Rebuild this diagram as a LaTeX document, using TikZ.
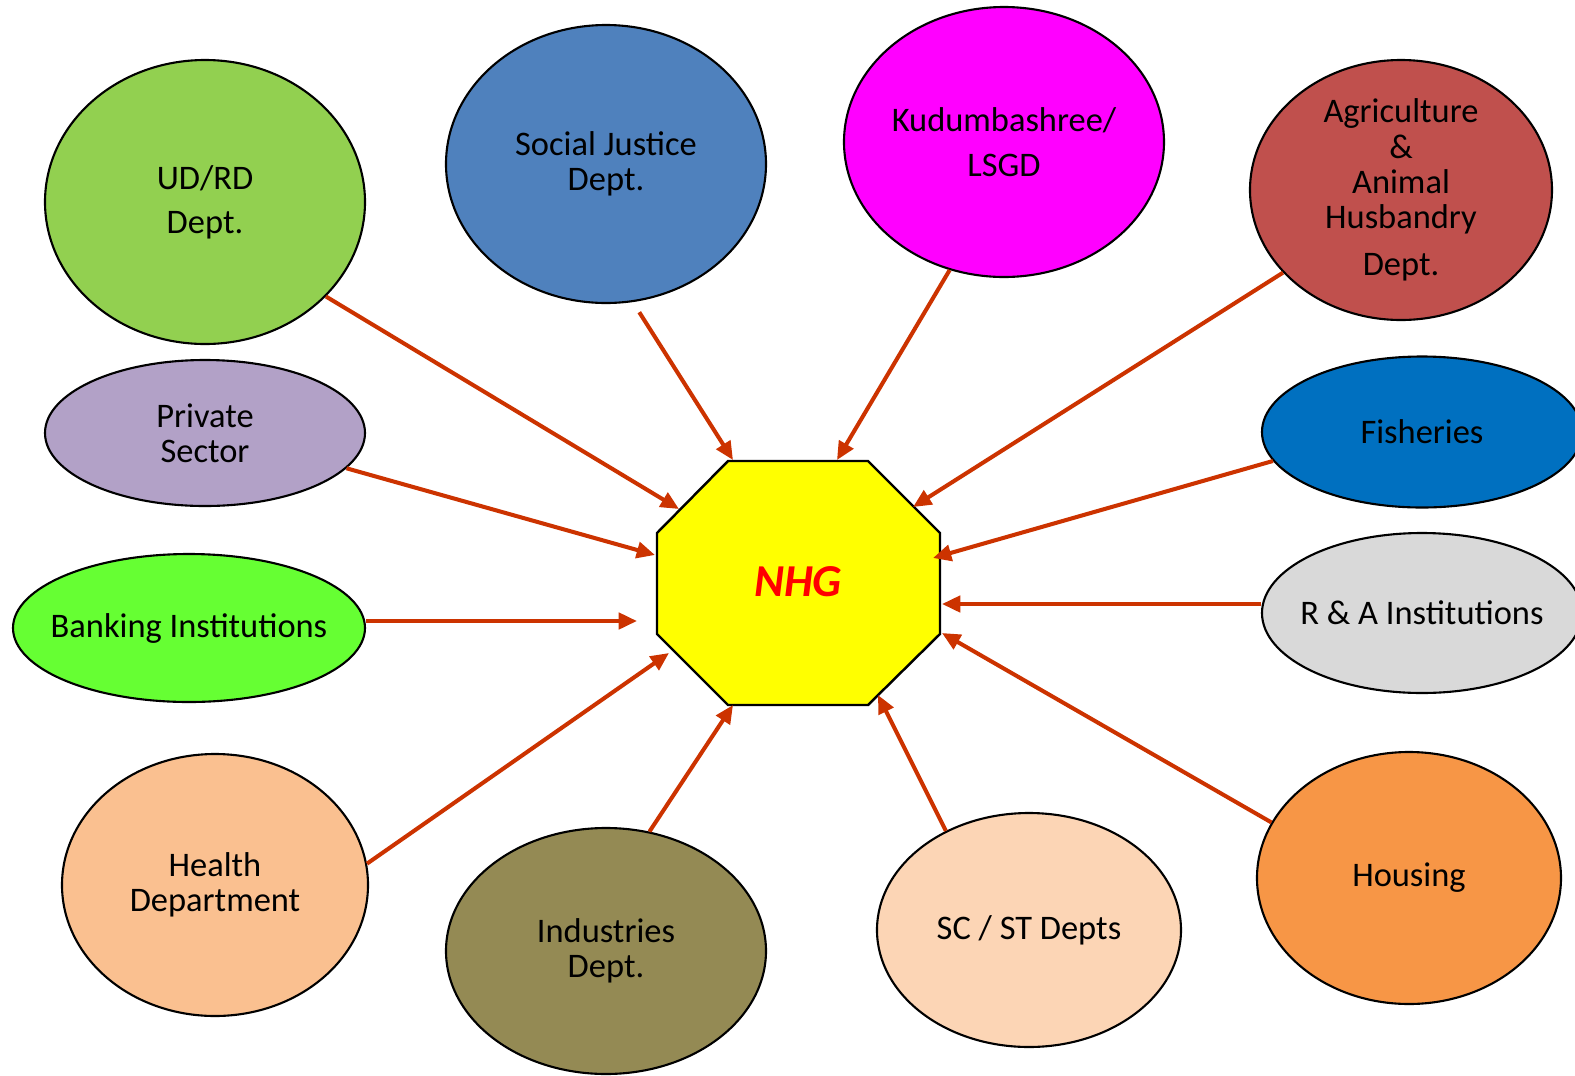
\documentclass[tikz,border=0pt]{standalone}
\usepackage{fontspec}
\setmainfont{Carlito}
\usetikzlibrary{shapes.geometric,arrows.meta}

\begin{document}
\begin{tikzpicture}[
    dept/.style = {ellipse, draw = black, line width = 0.6pt, inner sep = 0pt, align = center,
                   font = \fontsize{9.8}{10}\selectfont},
    arr/.style = {draw = arrowred, line width = 1.15pt, -{Triangle[length = 5.2pt, width = 4.6pt]}}
  ]
  \definecolor{arrowred}{HTML}{CC3300}
  \definecolor{octyellow}{HTML}{FFFF00}
  \definecolor{nhgred}{HTML}{FF0000}
  \useasboundingbox (0,0) rectangle (15.75,-10.76);
  \clip (0,0) rectangle (15.75,-10.76);
  \begin{scope} [fill opacity = 1]
    %% the centre octagon
    \filldraw[fill = octyellow, draw = black, line width = 0.7pt]
      (7.28,-4.61) -- (8.68,-4.61) -- (9.40,-5.33) -- (9.40,-6.34) -- (8.68,-7.05)
      -- (7.28,-7.05) -- (6.57,-6.34) -- (6.57,-5.33) -- cycle;
    \node (nhg) at (7.98,-5.82) {\fontsize{13}{15}\selectfont\color{nhgred}\textbf{\textit{NHG}}};

    %% the departments round it
    \node[dept, fill = {rgb,255:red,146;green,208;blue,80}, minimum width = 3.20cm, minimum height = 2.84cm] (udrd) at (2.05,-2.02) {UD/RD\\[2.5pt]Dept.};
    \node[dept, fill = {rgb,255:red,79;green,129;blue,189}, minimum width = 3.20cm, minimum height = 2.78cm] (social) at (6.06,-1.64) {Social Justice\\Dept.};
    \node[dept, fill = {rgb,255:red,255;green,0;blue,255}, minimum width = 3.20cm, minimum height = 2.70cm, inner xsep = -0.1cm] (kudumba) at (10.04,-1.42) {Kudumbashree/\\[3pt]LSGD};
    \node[dept, fill = {rgb,255:red,192;green,80;blue,77}, minimum width = 3.02cm, minimum height = 2.60cm] (agri) at (14.01,-1.90) {Agriculture\\\&\\Animal\\ Husbandry\\[3.4pt]Dept.};
    \node[dept, fill = {rgb,255:red,178;green,161;blue,199}, minimum width = 3.20cm, minimum height = 1.46cm] (private) at (2.05,-4.33) {Private\\Sector};
    \node[dept, fill = {rgb,255:red,0;green,112;blue,192}, minimum width = 3.20cm, minimum height = 1.51cm] (fish) at (14.22,-4.32) {Fisheries};
    \node[dept, fill = {rgb,255:red,102;green,255;blue,51}, minimum width = 3.52cm, minimum height = 1.48cm, inner xsep = -0.25cm] (bank) at (1.89,-6.28) {Banking Institutions};
    \node[dept, fill = {rgb,255:red,217;green,217;blue,217}, minimum width = 3.20cm, minimum height = 1.60cm, inner xsep = -0.2cm] (ra) at (14.22,-6.13) {R \& A Institutions};
    \node[dept, fill = {rgb,255:red,250;green,192;blue,144}, minimum width = 3.06cm, minimum height = 2.62cm] (health) at (2.15,-8.85) {Health\\Department};
    \node[dept, fill = {rgb,255:red,148;green,138;blue,84}, minimum width = 3.20cm, minimum height = 2.46cm] (industry) at (6.06,-9.51) {Industries\\Dept.};
    \node[dept, fill = {rgb,255:red,252;green,213;blue,181}, minimum width = 3.04cm, minimum height = 2.34cm] (scst) at (10.29,-9.30) {SC / ST Depts};
    \node[dept, fill = {rgb,255:red,247;green,150;blue,70}, minimum width = 3.04cm, minimum height = 2.52cm] (housing) at (14.09,-8.78) {Housing};

    %% arrow tips near the octagon
    \coordinate (t1) at (6.79,-5.09);
    \coordinate (t2) at (7.33,-4.60);
    \coordinate (t3) at (8.37,-4.60);
    \coordinate (t4) at (9.13,-5.07);
    \coordinate (t5) at (6.55,-5.55);
    \coordinate (t6) at (9.33,-5.58);
    \coordinate (t7) at (6.37,-6.21);
    \coordinate (t8) at (9.42,-6.04);
    \coordinate (t9) at (6.69,-6.53);
    \coordinate (t10) at (7.33,-7.05);
    \coordinate (t11) at (8.78,-6.95);
    \coordinate (t12) at (9.42,-6.33);

    \draw[arr] (udrd.-38) -- (t1);
    \draw[arr, shorten <= 0.12cm] (social.-79) -- (t2);
    \draw[arr] (kudumba.-113.3) -- (t3);
    \draw[arr] (agri.-145.4) -- (t4);
    \draw[arr] (private.-14.4) -- (t5);
    \draw[arr] (fish.-169.3) -- (t6);
    \draw[arr] (bank.east |- t7) -- (t7);
    \draw[arr] (ra.west |- t8) -- (t8);
    \draw[arr] (health.8.7) -- (t9);
    \draw[arr] (industry.70) -- (t10);
    \draw[arr] (scst.130.2) -- (t11);
    \draw[arr] (housing.158.9) -- (t12);
  \end{scope}
\end{tikzpicture}
\end{document}
